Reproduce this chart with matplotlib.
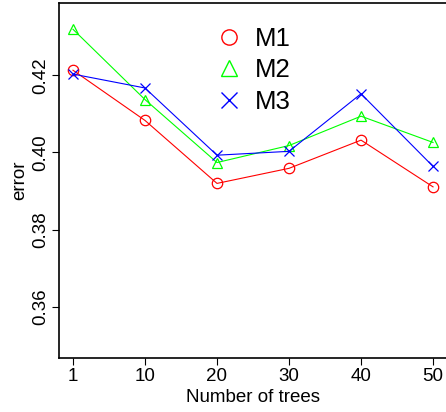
import numpy as np
import matplotlib
matplotlib.use("Agg")
import matplotlib.pyplot as plt
from matplotlib.lines import Line2D

plt.rcParams['font.family'] = ['Liberation Sans', 'DejaVu Sans']

trees = ["1", "10", "20", "30", "40", "50"]
m1 = [0.4213, 0.4083, 0.3920, 0.3959, 0.4032, 0.3911]
m2 = [0.4319, 0.4137, 0.3974, 0.4018, 0.4094, 0.4026]
m3 = [0.4203, 0.4167, 0.3993, 0.4003, 0.4152, 0.3964]
names = ["M1", "M2", "M3"]
colors = ["#FF0000", "#00FF00", "#0000FF"]
markers = ["o", "^", "x"]

fig = plt.figure(figsize=(4.46, 4.12), dpi=100)
ax = fig.add_axes([59/446, 54/412, 387/446, 355/412])

x = np.arange(len(trees))
for vals, c, m in zip([m1, m2, m3], colors, markers):
    ax.plot(x, vals, color=c, lw=0.8, marker=m, ms=7.5 if m != "x" else 7,
            mfc="none", mew=0.9)

ax.set_xlim(-0.194, 5.18)
ax.set_ylim(0.3468, 0.4387)
ax.set_xticks(x)
ax.set_xticklabels(trees)
ax.set_yticks([0.36, 0.38, 0.40, 0.42])
ax.set_yticklabels(["0.36", "0.38", "0.40", "0.42"], rotation=90, va="center")
ax.tick_params(labelsize=13.5, length=5, width=0.8, pad=2)
ax.spines['right'].set_visible(False)
for s in ['left', 'top', 'bottom']:
    ax.spines[s].set_linewidth(1.2)
ax.set_xlabel("Number of trees", fontsize=13.5, labelpad=3)
ax.set_ylabel("error", fontsize=13.5, labelpad=3)

handles = [Line2D([], [], ls="none", color=c, marker=m, ms=11, mfc="none", mew=1.0)
           for c, m in zip(colors, markers)]
ax.legend(handles, names, loc="upper left", bbox_to_anchor=(0.36, 0.984), frameon=False,
          fontsize=18.5, handlelength=1.0, handletextpad=0.5, labelspacing=0.3,
          borderpad=0.2)

fig.savefig("out.png", dpi=100)
